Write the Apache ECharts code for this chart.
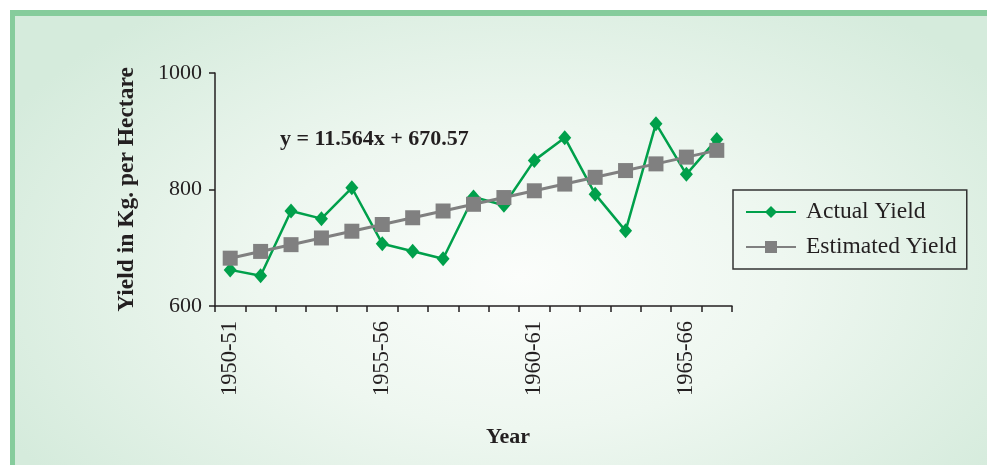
<!DOCTYPE html>
<html>
<head>
<meta charset="utf-8">
<script src="https://cdn.jsdelivr.net/npm/echarts@6/dist/echarts.min.js"></script>
<style>
  html, body { margin: 0; padding: 0; background: #ffffff; }
  #panel {
    position: absolute; left: 10px; top: 10px;
    width: 972px; height: 449px;
    border-left: 5px solid #86cc9c; border-top: 6px solid #86cc9c;
    background: radial-gradient(ellipse 60% 75% at 52% 58%, #fbfdfb 0%, #eef7f0 45%, #d5ebdc 100%);
  }
  #chart { position: absolute; left: 0; top: 0; width: 987px; height: 465px; }
</style>
</head>
<body>
<div id="panel"></div>
<div id="chart"></div>
<script>
// Crop years on the category axis
const years = ['1950-51', '1951-52', '1952-53', '1953-54', '1954-55', '1955-56',
  '1956-57', '1957-58', '1958-59', '1959-60', '1960-61', '1961-62', '1962-63',
  '1963-64', '1964-65', '1965-66', '1966-67'];

// Observed yield, kg per hectare
const actualYield = [662, 652, 763, 750, 803, 707, 694, 681, 787, 773, 850, 889,
  792, 729, 913, 826, 886];

// Trend-line yield, kg per hectare (y = 11.564x + 670.57)
const estimatedYield = [682.1, 693.7, 705.3, 716.8, 728.4, 739.9, 751.5, 763.1,
  774.6, 786.2, 797.8, 809.3, 820.9, 832.5, 844.0, 855.6, 867.2];

const yTicks = [600, 800, 1000];
const equationText = 'y = 11.564x + 670.57';

const serif = '"Liberation Serif", "DejaVu Serif", serif';
const chart = echarts.init(document.getElementById('chart'), null, { renderer: 'canvas' });

chart.setOption({
  backgroundColor: 'transparent',
  animation: false,
  grid: { left: 215, right: 255, top: 73, bottom: 159, containLabel: false },
  legend: {
    orient: 'vertical',
    left: 733, top: 190,
    padding: [10, 10, 10, 12],
    itemGap: 11,
    itemWidth: 50, itemHeight: 15,
    borderColor: '#333333', borderWidth: 1.5,
    textStyle: { fontFamily: serif, fontSize: 23.5, color: '#231f20', padding: [0, 0, 0, 5] },
    data: ['Actual Yield', 'Estimated Yield']
  },
  xAxis: {
    type: 'category',
    data: years,
    boundaryGap: true,
    axisLine: { lineStyle: { color: '#231f20', width: 1.5 } },
    axisTick: { show: true, interval: 0, length: 6, lineStyle: { color: '#231f20', width: 1.5 } },
    axisLabel: {
      interval: 4, rotate: 90, margin: 15,
      fontFamily: serif, fontSize: 22.5, color: '#231f20'
    },
    splitLine: { show: false }
  },
  yAxis: {
    type: 'value',
    min: yTicks[0], max: yTicks[yTicks.length - 1], interval: 200,
    name: 'Yield in Kg. per Hectare',
    nameLocation: 'middle',
    nameGap: 76,
    nameRotate: 90,
    nameTextStyle: { fontFamily: serif, fontSize: 23.5, fontWeight: 'bold', color: '#231f20' },
    axisLine: { show: true, lineStyle: { color: '#231f20', width: 1.5 } },
    axisTick: { show: true, length: 6, lineStyle: { color: '#231f20', width: 1.5 } },
    axisLabel: {
      fontFamily: serif, fontSize: 22, color: '#231f20', margin: 13,
      formatter: v => String(v)
    },
    splitLine: { show: false }
  },
  graphic: [
    {
      type: 'text',
      left: 280, top: 128,
      style: { text: equationText, font: 'bold 22px ' + serif, fill: '#231f20' }
    },
    {
      type: 'text',
      left: 486, top: 426,
      style: { text: 'Year', font: 'bold 22px ' + serif, fill: '#231f20' }
    }
  ],
  series: [
    {
      name: 'Actual Yield',
      type: 'line',
      data: actualYield,
      symbol: 'diamond',
      symbolSize: [13, 15],
      z: 2,
      lineStyle: { color: '#00a04b', width: 2.5 },
      itemStyle: { color: '#00a04b' }
    },
    {
      name: 'Estimated Yield',
      type: 'line',
      data: estimatedYield,
      symbol: 'rect',
      symbolSize: 15,
      z: 3,
      lineStyle: { color: '#808080', width: 3 },
      itemStyle: { color: '#808080' }
    }
  ]
});
</script>
</body>
</html>
